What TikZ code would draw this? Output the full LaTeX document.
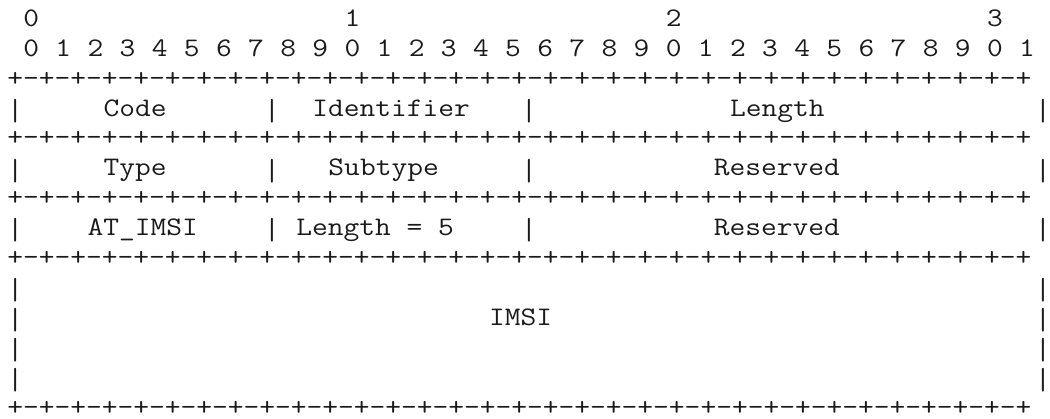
\documentclass[tikz,border=0pt]{standalone}
\usepackage{fontspec}
\setmonofont[FakeStretch=1.1426]{Latin Modern Mono}
\usepackage{tikz}
\definecolor{ink}{HTML}{1A1A1A}
\tikzset{
  ch/.style={inner sep=0pt, anchor=base west, text=ink,
    font=\ttfamily\fontsize{20.08pt}{22.4pt}\selectfont},
}
% one column = one character cell, one row = one text line
\newcommand{\sepline}{+-+-+-+-+-+-+-+-+-+-+-+-+-+-+-+-+-+-+-+-+-+-+-+-+-+-+-+-+-+-+-+-+}
% a taller bar, reaching down into the descender
\newcommand{\wallbar}{\raisebox{-0.16em}{\scalebox{1}[1.14]{|}}}

\begin{document}
\begin{tikzpicture}[x=12.045pt, y=-22.425pt]
  \useasboundingbox (-0.436,-0.602) rectangle (64.94,13.41);
  % bit numbering
  \foreach \c/\d in {1/0,21/1,41/2,61/3}
    \node[ch] (tens\d) at (\c,0.28) {\d};
  \foreach \b in {0,...,31}{
    \pgfmathtruncatemacro{\u}{mod(\b,10)}
    \pgfmathtruncatemacro{\c}{2*\b+1}
    \node[ch] (bit\b) at (\c,1.28) {\u};
  }
  % separators
  \foreach \r in {2,4,6,8,13}
    \node[ch] (sep\r) at (0,\r+0.28) {\sepline};
  % field walls
  \foreach \r/\cols in {3/{0,16,32,64},5/{0,16,32,64},7/{0,16,32,64},
                        9/{0,64},10/{0,64},11/{0,64},12/{0,64}}
    \foreach \c in \cols
      \node[ch] (wall\r-\c) at (\c,\r+0.28) {\wallbar};
  % header
  \node[ch] (code)    at (6,3.28)  {Code};
  \node[ch] (ident)   at (19,3.28) {Identifier};
  \node[ch] (len)     at (45,3.28) {Length};
  \node[ch] (type)    at (6,5.28)  {Type};
  \node[ch] (subtype) at (20,5.28) {Subtype};
  \node[ch] (rsvdA)   at (44,5.28) {Reserved};
  % attribute
  \node[ch] (attype)  at (5,7.28)  {AT\_IMSI};
  \node[ch] (atlen)   at (18,7.28) {Length = 5};
  \node[ch] (rsvdB)   at (44,7.28) {Reserved};
  \node[ch] (imsi)    at (30,10.28) {IMSI};
\end{tikzpicture}
\end{document}
